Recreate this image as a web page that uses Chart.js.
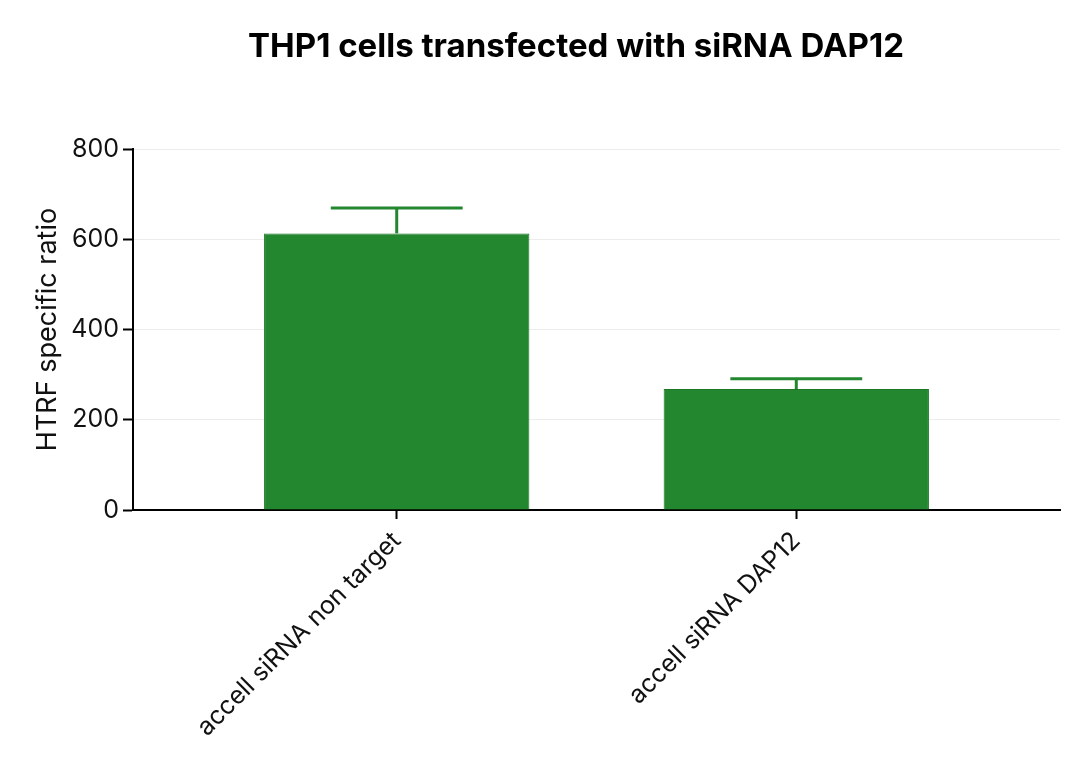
<!DOCTYPE html>
<html>
<head>
<meta charset="utf-8">
<script src="https://cdn.jsdelivr.net/npm/chart.js@4"></script>
<style>
  html, body { margin: 0; padding: 0; background: #fff; }
  #wrap { width: 1080px; height: 771px; }
</style>
</head>
<body>
<div id="wrap"><canvas id="graphique" width="1080" height="771"></canvas></div>
<script>
// donnees
const categories = ["accell siRNA non target", "accell siRNA DAP12"];
const moyennes = [613, 268];
const erreurs = [56, 23];
const yTicks = [0, 200, 400, 600, 800];
const titre = "THP1 cells transfected with siRNA DAP12";

const vert = "rgb(34, 135, 46)";
const police = "Inter, 'DejaVu Sans', sans-serif";

// titre dessine a la main (decale a droite comme dans la figure)
const pluginTitre = {
  id: "titre",
  afterDraw(chart) {
    const ctx = chart.ctx;
    ctx.save();
    ctx.font = "bold 33px " + police;
    ctx.fillStyle = "#000";
    ctx.textAlign = "center";
    ctx.textBaseline = "middle";
    ctx.fillText(titre, 576, 47);
    ctx.restore();
  }
};

// barres d'erreur (seulement vers le haut)
const pluginErreurs = {
  id: "erreurs",
  afterDatasetsDraw(chart) {
    const ctx = chart.ctx;
    const x = chart.scales.x;
    const y = chart.scales.y;
    ctx.save();
    ctx.strokeStyle = vert;
    for (let i = 0; i < moyennes.length; i++) {
      const px = x.getPixelForValue(i);
      const haut = y.getPixelForValue(moyennes[i] + erreurs[i]);
      const bas = y.getPixelForValue(moyennes[i]);
      const demi = (x.getPixelForValue(i + 0.165) - px);
      ctx.lineWidth = 3;
      ctx.beginPath();
      ctx.moveTo(px, bas);
      ctx.lineTo(px, haut);
      ctx.stroke();
      ctx.beginPath();
      ctx.moveTo(px - demi, haut);
      ctx.lineTo(px + demi, haut);
      ctx.stroke();
    }
    ctx.restore();
  }
};

const data = {
  datasets: [{
    label: "HTRF specific ratio",
    data: moyennes.map((v, i) => ({ x: i, y: v })),
    backgroundColor: vert,
    borderColor: "rgb(28, 118, 38)",
    borderWidth: 1,
    barPercentage: 0.664,
    categoryPercentage: 1
  }]
};

const config = {
  type: "bar",
  data: data,
  options: {
    responsive: false,
    animation: false,
    devicePixelRatio: 1,
    layout: { padding: { top: 149, right: 20, left: 32, bottom: 0 } },
    plugins: {
      legend: { display: false },
      tooltip: { enabled: false }
    },
    scales: {
      x: {
        type: "linear",
        min: -0.66,
        max: 1.66,
        offset: false,
        afterBuildTicks(scale) {
          scale.ticks = categories.map((c, i) => ({ value: i }));
        },
        afterFit(scale) { scale.height = 261; },
        border: { color: "#000", width: 2 },
        grid: { offset: false, drawOnChartArea: false, drawTicks: true, tickLength: 9, tickColor: "#000", tickWidth: 2 },
        ticks: {
          minRotation: 45,
          maxRotation: 45,
          autoSkip: false,
          padding: 7,
          color: "#111",
          font: { family: police, size: 25 },
          callback: (v) => categories[v]
        }
      },
      y: {
        min: 0,
        max: 800,
        afterBuildTicks(scale) {
          scale.ticks = yTicks.map(v => ({ value: v }));
        },
        afterFit(scale) { scale.width = 101; },
        border: { color: "#000", width: 2 },
        grid: { offset: false, color: "#ececec", lineWidth: 1, tickLength: 10, tickColor: "#000", tickWidth: 2 },
        ticks: {
          color: "#111",
          padding: 4,
          font: { family: police, size: 25 }
        },
        title: {
          display: true,
          text: "HTRF specific ratio",
          color: "#111",
          font: { family: police, size: 27 },
          padding: { top: 0, bottom: 8 }
        }
      }
    }
  },
  plugins: [pluginTitre, pluginErreurs]
};

const graphique = new Chart(document.querySelector("#graphique"), config);
</script>
</body>
</html>
